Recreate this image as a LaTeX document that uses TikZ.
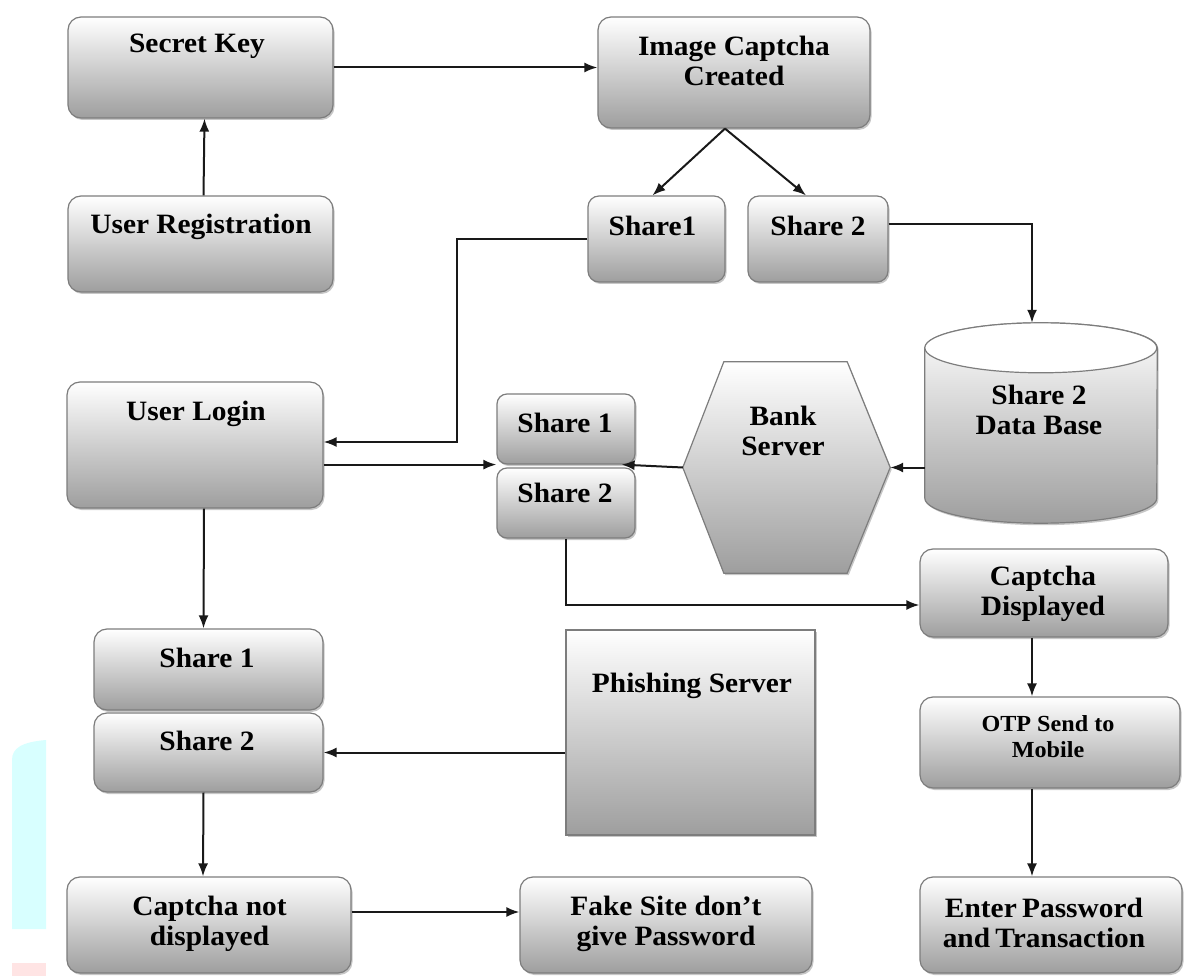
\documentclass[tikz,border=0pt]{standalone}
\usepackage{fontspec}
\setmainfont{Liberation Serif}[FakeStretch=1.05]
\usetikzlibrary{arrows.meta,calc,shadows}
\definecolor{boxline}{RGB}{125,125,125}
\definecolor{boxbot}{RGB}{158,158,158}
\definecolor{wmcyan}{RGB}{216,255,255}
\definecolor{wmpink}{RGB}{255,228,228}
\tikzset{
  shad/.style={drop shadow={shadow xshift=1.5pt,shadow yshift=-2pt,opacity=0.22,fill=black}},
  box/.style={draw=boxline, line width=1.2pt, rounded corners=13pt, top color=white, bottom color=boxbot, inner sep=0pt, shad},
  sqbox/.style={draw=boxline, line width=1.2pt, top color=white, bottom color=boxbot, inner sep=0pt, shad},
  ghost/.style={inner sep=0pt, draw=none},
  lbl/.style={font=\bfseries\fontsize{28}{30}\selectfont, align=center, inner sep=0pt, text=black},
  lblsmall/.style={font=\bfseries\fontsize{23}{26}\selectfont, align=center, inner sep=0pt, text=black},
  arr/.style={-{Latex[length=13pt,width=10pt]}, line width=2pt, draw=black!90},
  ln/.style={line width=2pt, draw=black!90}
}
\begin{document}
\begin{tikzpicture}[x=1pt,y=-1pt]
\useasboundingbox (0,0) rectangle (1187,976);
% faint watermark fragments at the left edge
\fill[wmcyan] (12,760) .. controls (12,748) and (22,742) .. (46,740) -- (46,929) -- (12,929) -- cycle;
\fill[wmpink] (12,963) rectangle (46,976);

% boxes
\node[box, minimum width=265pt, minimum height=101pt] (sk) at (200.5,67.5) {};
\node[box, minimum width=265pt, minimum height=96pt] (ur) at (200.5,244) {};
\node[box, minimum width=272pt, minimum height=111pt] (ic) at (734,72.5) {};
\node[box, minimum width=137pt, minimum height=86pt, rounded corners=11pt] (s1t) at (656.5,239) {};
\node[box, minimum width=140pt, minimum height=86pt, rounded corners=11pt] (s2t) at (818,239) {};
\node[box, minimum width=256pt, minimum height=126pt] (ul) at (195,445) {};
\node[box, minimum width=138pt, minimum height=70pt, rounded corners=10pt] (ms1) at (566,429) {};
\node[box, minimum width=138pt, minimum height=70pt, rounded corners=10pt] (ms2) at (566,503) {};
\node[box, minimum width=248pt, minimum height=88pt] (cd) at (1044,593) {};
\node[box, minimum width=260pt, minimum height=91pt] (otp) at (1050,742.5) {};
\node[box, minimum width=262pt, minimum height=96pt] (ep) at (1051,925) {};
\node[sqbox, minimum width=249pt, minimum height=205pt] (ps) at (690.5,732.5) {};
\node[box, minimum width=229pt, minimum height=81pt] (ls1) at (208.5,669.5) {};
\node[box, minimum width=229pt, minimum height=79pt] (ls2) at (208.5,752.5) {};
\node[box, minimum width=284pt, minimum height=96pt] (cnd) at (209,925) {};
\node[box, minimum width=292pt, minimum height=96pt] (fake) at (666,925) {};

% bank server hexagon
\node[ghost, minimum width=207pt, minimum height=211pt] (bank) at (786.5,467.5) {};
\path[draw=boxline, line width=1.2pt, top color=white, bottom color=boxbot, shad]
  (bank.west) -- ($(bank.north west)+(41,0)$) -- ($(bank.north east)+(-43,0)$) -- (bank.east)
  -- ($(bank.south east)+(-43,0)$) -- ($(bank.south west)+(41,0)$) -- cycle;

% database cylinder
\node[ghost, minimum width=232pt, minimum height=200pt] (cyl) at (1041,423) {};
\path[draw=boxline, line width=1.2pt, top color=white, bottom color=boxbot, shad]
  ($(cyl.north west)+(0,25)$) -- ($(cyl.south west)+(0,-25)$)
  arc[start angle=180, end angle=360, x radius=116pt, y radius=25pt]
  -- ($(cyl.north east)+(0,25)$)
  arc[start angle=0, end angle=180, x radius=116pt, y radius=25pt] -- cycle;
\fill[white] ($(cyl.north west)+(0,25)$) arc[start angle=180, end angle=-180, x radius=116pt, y radius=25pt];
\draw[boxline, line width=1.2pt] ($(cyl.north west)+(0,25)$) arc[start angle=180, end angle=-180, x radius=116pt, y radius=25pt];

% texts
\node[lbl] (skT) at (197,46.4) {Secret Key};
\node[lbl] (urT) at (201,226.4) {User Registration};
\node[lbl] (icT) at (734,61.4) {Image Captcha\\Created};
\node[lbl] (s1tT) at (652.5,225.5) {Share1};
\node[lbl] (s2tT) at (818,225.5) {Share 2};
\node[lbl] (ulT) at (196,413.4) {User Login};
\node[lbl] (ms1T) at (565,423.4) {Share 1};
\node[lbl] (ms2T) at (565,493.4) {Share 2};
\node[lbl] (bankT) at (783,431.4) {Bank\\Server};
\node[lbl] (cylT) at (1039,410.4) {Share 2\\Data Base};
\node[lbl] (cdT) at (1043,593.4) {Captcha\\Displayed};
\node[lblsmall] (otpT) at (1048,736.6) {OTP Send to\\Mobile};
\node[lbl] (epT) at (1044,923.4) {Enter\hspace{-2pt} Password\\and\hspace{-2pt} Transaction};
\node[lbl] (psT) at (692,685.4) {Phishing Server};
\node[lbl] (ls1T) at (207,658.4) {Share 1};
\node[lbl] (ls2T) at (207,741.4) {Share 2};
\node[lbl] (cndT) at (209.5,923.4) {Captcha not\\displayed};
\node[lbl] (fakeT) at (666,923.4) {Fake Site don’t\\give Password};

% connectors
\coordinate (c1) at (457,442);
\draw[arr] ($(ur.north)+(3,0)$) -- ($(sk.south)+(4,0)$);
\draw[arr] (sk.east) -- (sk.east -| ic.west);
\draw[arr] ($(ic.south)+(-9,0)$) -- ($(s1t.north)+(-4,0)$);
\draw[arr] ($(ic.south)+(-9,0)$) -- ($(s2t.north)+(-12,0)$);
\draw[arr] ($(s2t.north east)+(0,29)$) -| ($(cyl.north)+(-9,0)$);
\draw[arr] (s1t.west) -| (c1) -- (c1 -| ul.east);
\draw[arr] (ul.east |- ms1.south west) -- (ms1.south west);
\draw[arr] (bank.west) -- ($(ms1.south east)+(-14,0)$);
\draw[arr] (cyl.west |- bank.east) -- (bank.east);
\draw[arr] (ms2.south) |- ($(cd.west)+(0,12)$);
\draw[arr] ($(cd.south)+(-12,0)$) -- ($(otp.north)+(-18,0)$);
\draw[arr] ($(otp.south)+(-18,0)$) -- ($(ep.north)+(-19,0)$);
\draw[arr] ($(ul.south)+(9,0)$) -- ($(ls1.north)+(-5,0)$);
\draw[arr] ($(ls2.south)+(-5,0)$) -- ($(cnd.north)+(-6,0)$);
\draw[arr] (ps.west |- ls2.east) -- (ls2.east);
\draw[arr] ($(cnd.east)+(0,-13)$) -- ($(fake.west)+(0,-13)$);
\end{tikzpicture}
\end{document}
